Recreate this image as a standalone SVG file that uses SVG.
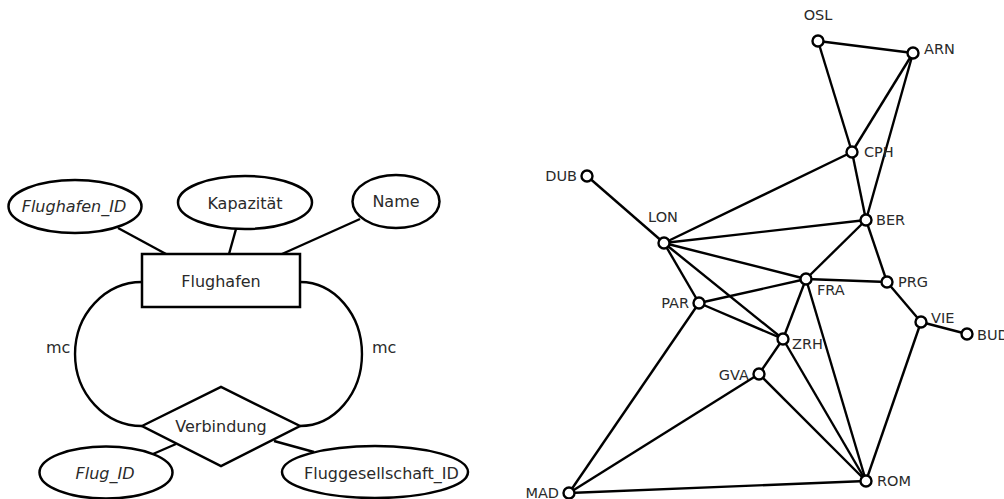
<svg xmlns="http://www.w3.org/2000/svg" width="1004" height="499" viewBox="0 0 1004 499">
<style>
.s{fill:none;stroke:#000;stroke-width:2.4}
.f{fill:#fff;stroke:#000;stroke-width:2.5}
.t{font-family:"DejaVu Sans",sans-serif;font-size:16px;fill:#2a2a2a}
.i{font-style:italic}
.m{text-anchor:middle}
.e{text-anchor:end}
.g{font-family:"DejaVu Sans",sans-serif;font-size:14.5px;fill:#2a2a2a}
.n{fill:#fff;stroke:#000;stroke-width:2.4}
</style>
<rect width="1004" height="499" fill="#fff"/>
<g id="er-connectors">
<line class="s" x1="118" y1="228" x2="166" y2="254"/>
<line class="s" x1="236" y1="229" x2="229" y2="254"/>
<line class="s" x1="360" y1="219" x2="282" y2="254"/>
<path class="s" d="M142,282 A67,72 0 0 0 142,426"/>
<path class="s" d="M300,282 A62,72 0 0 1 300,426"/>
<line class="s" x1="153" y1="454" x2="176" y2="444"/>
<line class="s" x1="274" y1="441" x2="314" y2="452"/>
</g>
<g id="flughafen"><rect class="f" x="142" y="254" width="158" height="53"/><text class="t m" x="221" y="287">Flughafen</text></g>
<g id="flughafen_id"><ellipse class="f" cx="75" cy="206.5" rx="66.5" ry="26.5"/><text class="t m i" x="74" y="212">Flughafen_ID</text></g>
<g id="kapazitaet"><ellipse class="f" cx="245" cy="202.5" rx="67" ry="26.5"/><text class="t m" x="245" y="209">Kapazität</text></g>
<g id="name"><ellipse class="f" cx="396" cy="201.5" rx="43.5" ry="26.5"/><text class="t m" x="396" y="207">Name</text></g>
<g id="verbindung"><polygon class="f" points="142,426 221,387 300,426 221,466"/><text class="t m" x="221" y="432">Verbindung</text></g>
<g id="flug_id"><ellipse class="f" cx="106" cy="472.5" rx="66.5" ry="26"/><text class="t m i" x="105" y="479">Flug_ID</text></g>
<g id="fluggesellschaft_id"><ellipse class="f" cx="375" cy="472" rx="93" ry="26"/><text class="t" x="304" y="479">Fluggesellschaft_ID</text></g>
<g id="mc-labels"><text class="t" x="46" y="353">mc</text><text class="t" x="372" y="353">mc</text></g>
<g id="graph-edges" class="s">
<line x1="818" y1="41" x2="913" y2="53"/>
<line x1="818" y1="41" x2="852" y2="152"/>
<line x1="913" y1="53" x2="852" y2="152"/>
<line x1="913" y1="53" x2="866" y2="220"/>
<line x1="852" y1="152" x2="866" y2="220"/>
<line x1="852" y1="152" x2="664" y2="243"/>
<line x1="587" y1="176" x2="664" y2="243"/>
<line x1="664" y1="243" x2="866" y2="220"/>
<line x1="664" y1="243" x2="806" y2="279"/>
<line x1="664" y1="243" x2="699" y2="303"/>
<line x1="664" y1="243" x2="783" y2="339"/>
<line x1="866" y1="220" x2="806" y2="279"/>
<line x1="866" y1="220" x2="887" y2="282"/>
<line x1="806" y1="279" x2="887" y2="282"/>
<line x1="806" y1="279" x2="699" y2="303"/>
<line x1="806" y1="279" x2="783" y2="339"/>
<line x1="806" y1="279" x2="866" y2="481"/>
<line x1="699" y1="303" x2="783" y2="339"/>
<line x1="699" y1="303" x2="569" y2="493"/>
<line x1="887" y1="282" x2="921" y2="322"/>
<line x1="921" y1="322" x2="967" y2="334"/>
<line x1="921" y1="322" x2="866" y2="481"/>
<line x1="783" y1="339" x2="759" y2="374"/>
<line x1="783" y1="339" x2="866" y2="481"/>
<line x1="759" y1="374" x2="569" y2="493"/>
<line x1="759" y1="374" x2="866" y2="481"/>
<line x1="569" y1="493" x2="866" y2="481"/>
</g>
<g id="OSL"><circle class="n" cx="818" cy="41" r="5.5"/><text class="g m" x="818" y="20">OSL</text></g>
<g id="ARN"><circle class="n" cx="913" cy="53" r="5.5"/><text class="g" x="924" y="54">ARN</text></g>
<g id="CPH"><circle class="n" cx="852" cy="152" r="5.5"/><text class="g" x="864" y="157">CPH</text></g>
<g id="DUB"><circle class="n" cx="587" cy="176" r="5.5"/><text class="g e" x="577" y="181">DUB</text></g>
<g id="LON"><circle class="n" cx="664" cy="243" r="5.5"/><text class="g m" x="663" y="222">LON</text></g>
<g id="BER"><circle class="n" cx="866" cy="220" r="5.5"/><text class="g" x="876" y="225">BER</text></g>
<g id="FRA"><circle class="n" cx="806" cy="279" r="5.5"/><text class="g" x="817" y="295">FRA</text></g>
<g id="PRG"><circle class="n" cx="887" cy="282" r="5.5"/><text class="g" x="898" y="287">PRG</text></g>
<g id="PAR"><circle class="n" cx="699" cy="303" r="5.5"/><text class="g e" x="689" y="308">PAR</text></g>
<g id="VIE"><circle class="n" cx="921" cy="322" r="5.5"/><text class="g" x="931" y="323">VIE</text></g>
<g id="BUD"><circle class="n" cx="967" cy="334" r="5.5"/><text class="g" x="977" y="340">BUD</text></g>
<g id="ZRH"><circle class="n" cx="783" cy="339" r="5.5"/><text class="g" x="792" y="349">ZRH</text></g>
<g id="GVA"><circle class="n" cx="759" cy="374" r="5.5"/><text class="g e" x="749" y="380">GVA</text></g>
<g id="ROM"><circle class="n" cx="866" cy="481" r="5.5"/><text class="g" x="877" y="486">ROM</text></g>
<g id="MAD"><circle class="n" cx="569" cy="493" r="5.5"/><text class="g e" x="559" y="498">MAD</text></g>
</svg>
